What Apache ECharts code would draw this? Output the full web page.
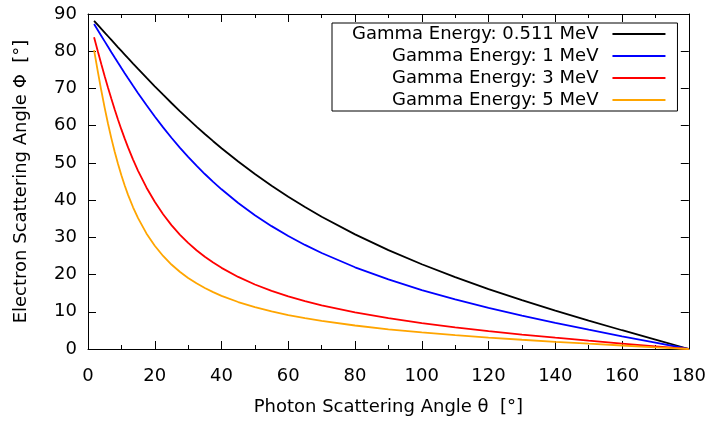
<!DOCTYPE html>
<html>
<head>
<meta charset="utf-8">
<script src="https://cdn.jsdelivr.net/npm/echarts@6/dist/echarts.min.js"></script>
<style>
html,body{margin:0;padding:0;background:#fff;}
#chart{width:709px;height:421px;}
</style>
</head>
<body>
<div id="chart"></div>
<script>
const photonAngle = [1.818, 3, 4, 5, 6, 7, 8, 9, 10, 11, 12, 13.5, 15, 17.5, 20, 22.5, 25, 27.5, 30, 32.5, 35, 37.5, 40, 45, 50, 55, 60, 65, 70, 80, 90, 100, 110, 120, 130, 140, 150, 160, 170, 180];
const phi0511 = [88.18, 87.00, 86.00, 85.01, 84.02, 83.03, 82.04, 81.05, 80.07, 79.10, 78.13, 76.68, 75.25, 72.89, 70.57, 68.31, 66.09, 63.92, 61.81, 59.76, 57.76, 55.83, 53.95, 50.36, 47.00, 43.85, 40.89, 38.13, 35.53, 30.79, 26.57, 22.76, 19.30, 16.10, 13.12, 10.31, 7.63, 5.04, 2.51, 0];
const phi1 = [87.31, 85.57, 84.10, 82.64, 81.19, 79.75, 78.32, 76.90, 75.50, 74.11, 72.73, 70.71, 68.73, 65.53, 62.46, 59.54, 56.75, 54.11, 51.61, 49.24, 47.01, 44.89, 42.90, 39.23, 35.95, 33.01, 30.36, 27.96, 25.78, 21.95, 18.69, 15.84, 13.32, 11.05, 8.96, 7.02, 5.18, 3.41, 1.69, 0];
const phi3 = [83.78, 79.80, 76.51, 73.30, 70.20, 67.21, 64.34, 61.60, 58.99, 56.51, 54.16, 50.88, 47.87, 43.40, 39.54, 36.19, 33.28, 30.74, 28.51, 26.54, 24.78, 23.21, 21.80, 19.36, 17.33, 15.62, 14.15, 12.87, 11.74, 9.84, 8.28, 6.96, 5.82, 4.80, 3.88, 3.03, 2.23, 1.47, 0.73, 0];
const phi5 = [80.29, 74.23, 69.37, 64.79, 60.52, 56.59, 52.98, 49.68, 46.66, 43.92, 41.42, 38.08, 35.16, 31.06, 27.74, 24.99, 22.70, 20.75, 19.09, 17.65, 16.39, 15.28, 14.29, 12.62, 11.25, 10.10, 9.12, 8.28, 7.54, 6.31, 5.30, 4.45, 3.71, 3.06, 2.48, 1.93, 1.42, 0.94, 0.46, 0];
const seriesNames = ['Gamma Energy: 0.511 MeV', 'Gamma Energy: 1 MeV', 'Gamma Energy: 3 MeV', 'Gamma Energy: 5 MeV'];
const seriesValues = [phi0511, phi1, phi3, phi5];
const seriesColors = ['#000000', '#0000ff', '#ff0000', '#ffa500'];
const xTitle = 'Photon Scattering Angle θ  [°]';
const yTitle = 'Electron Scattering Angle Φ  [°]';

const FONT = 'DejaVu Sans';
const chart = echarts.init(document.getElementById('chart'), null, {renderer: 'canvas'});

function axisBase(extra) {
  return Object.assign({
    type: 'value',
    splitLine: {show: false},
    axisLine: {show: true, onZero: false, lineStyle: {color: '#000', width: 1}},
    axisTick: {show: true, inside: true, length: 8, lineStyle: {color: '#000', width: 1}},
  }, extra);
}

const option = {
  animation: false,
  backgroundColor: '#fff',
  textStyle: {fontFamily: FONT},
  grid: {left: 88, right: 20, top: 14, bottom: 68, containLabel: false},
  xAxis: [
    axisBase({
      position: 'bottom', min: 0, max: 180, interval: 20,
      minorTick: {show: true, splitNumber: 2, length: 4, lineStyle: {color: '#000', width: 1}},
      axisLabel: {show: true, color: '#000', fontSize: 18, fontFamily: FONT, margin: 18},
      name: xTitle, nameLocation: 'middle', nameGap: 49,
      nameTextStyle: {color: '#000', fontSize: 18, fontFamily: FONT}
    }),
    axisBase({
      position: 'top', min: 0, max: 180, interval: 20,
      minorTick: {show: true, splitNumber: 2, length: 4, lineStyle: {color: '#000', width: 1}},
      axisLabel: {show: false}
    })
  ],
  yAxis: [
    axisBase({
      position: 'left', min: 0, max: 90, interval: 10,
      axisLabel: {show: true, color: '#000', fontSize: 18, fontFamily: FONT, margin: 11},
      name: yTitle, nameLocation: 'middle', nameGap: 58,
      nameTextStyle: {color: '#000', fontSize: 18, fontFamily: FONT}
    }),
    axisBase({
      position: 'right', min: 0, max: 90, interval: 10,
      axisLabel: {show: false}
    })
  ],
  legend: {
    show: true,
    orient: 'vertical',
    align: 'right',
    left: 332,
    top: 23,
    padding: [1, 12, 1, 20],
    itemGap: 2,
    itemWidth: 53,
    itemHeight: 2,
    icon: 'rect',
    borderColor: '#000',
    borderWidth: 1,
    backgroundColor: '#fff',
    selectedMode: false,
    textStyle: {color: '#000', fontSize: 18, fontFamily: FONT, lineHeight: 20, padding: [0, 9, 0, 0]},
    data: seriesNames
  },
  series: seriesNames.map((name, i) => ({
    name: name,
    type: 'line',
    xAxisIndex: 0,
    yAxisIndex: 0,
    showSymbol: false,
    symbol: 'none',
    smooth: false,
    clip: true,
    lineStyle: {color: seriesColors[i], width: 1.8},
    itemStyle: {color: seriesColors[i]},
    data: photonAngle.map((x, j) => [x, seriesValues[i][j]])
  }))
};
chart.setOption(option);
</script>
</body>
</html>
